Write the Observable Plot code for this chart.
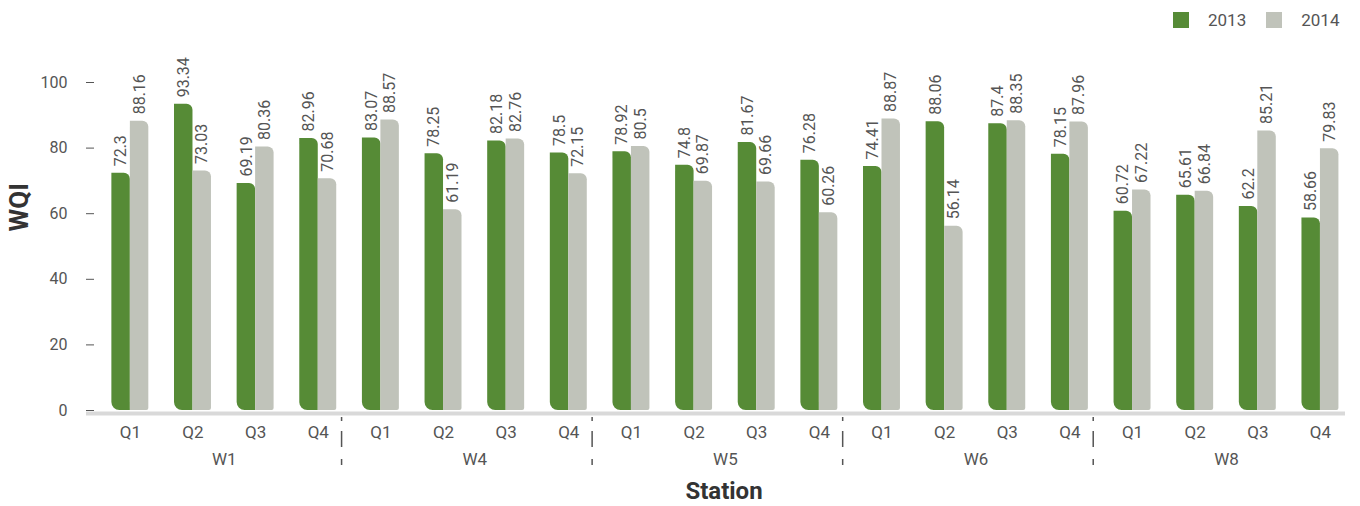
<!DOCTYPE html>
<html><head><meta charset="utf-8">
<script src="https://cdn.jsdelivr.net/npm/d3@7"></script>
<script src="https://cdn.jsdelivr.net/npm/@observablehq/plot@0.6"></script>
<style>
body{margin:0;background:#fff;font-family:Roboto,sans-serif}
#wrap{position:relative;width:1360px;height:506px}
#legend{position:absolute;top:11px;left:1173px;display:flex;align-items:center;font-size:17px;color:#555;line-height:18px}
#legend .sw{width:16px;height:16px;display:inline-block;margin-right:19px}
#legend .lab{margin-right:20px}
svg{display:block}
</style></head><body><div id="wrap"><div id="legend"></div></div>
<script>
const stations = ["W1","W4","W5","W6","W8"];
const quarters = ["Q1","Q2","Q3","Q4"];
const years = ["2013","2014"];
const wqi2013 = [72.3,93.34,69.19,82.96, 83.07,78.25,82.18,78.5, 78.92,74.8,81.67,76.28, 74.41,88.06,87.4,78.15, 60.72,65.61,62.2,58.66];
const wqi2014 = [88.16,73.03,80.36,70.68, 88.57,61.19,82.76,72.15, 80.5,69.87,69.66,60.26, 88.87,56.14,88.35,87.96, 67.22,66.84,85.21,79.83];
const yTicks = [0,20,40,60,80,100];
const colors = ["#568b36","#c0c3ba"];

const half = 0.295;
const slots = d3.range(stations.length * quarters.length);
const rows = [];
slots.forEach(i => {
  rows.push({i, year: years[0], value: wqi2013[i], x1: i - half, x2: i, xc: i - half / 2});
  rows.push({i, year: years[1], value: wqi2014[i], x1: i, x2: i + half, xc: i + half / 2});
});
const groupCenters = stations.map((s, g) => g * quarters.length + (quarters.length - 1) / 2);
const separators = stations.slice(1).map((s, g) => (g + 1) * quarters.length - 0.5);

const plot = Plot.plot({
  width: 1360, height: 506,
  marginLeft: 86, marginRight: 15, marginTop: 82, marginBottom: 96,
  style: {fontFamily: "Roboto, sans-serif", background: "#fff"},
  x: {domain: [-0.7, 19.4], label: null, axis: null},
  y: {domain: [0, 100], label: null, axis: null},
  color: {domain: years, range: colors},
  marks: [
    Plot.rectY(rows.filter(d => d.year === years[0]), {x1: "x1", x2: "x2", y1: 0, y2: "value", fill: "year", rx1y1: 8, rx2y2: 6}),
    Plot.rectY(rows.filter(d => d.year === years[1]), {x1: "x1", x2: "x2", y1: 0, y2: "value", fill: "year", rx2y1: 2, rx2y2: 6}),
    Plot.ruleY([0], {stroke: "#d9d9d9", strokeWidth: 4, dy: 3}),
    Plot.text(rows, {x: "xc", y: "value", text: "value", rotate: -90, textAnchor: "start", dy: -7, fontSize: 16, fill: "#555"}),
    Plot.axisY(yTicks, {tickSize: 8, tickPadding: 19, dx: 8, fontSize: 16, color: "#555"}),
    Plot.axisX(slots, {tickFormat: i => quarters[i % quarters.length], tickSize: 0, tickPadding: 15, fontSize: 17, color: "#555", label: null}),
    Plot.axisX(groupCenters, {tickFormat: (d, k) => stations[k], tickSize: 0, tickPadding: 42, fontSize: 17, color: "#555", label: null}),
    Plot.ruleX(separators, {x: d => d, insetTop: 331, insetBottom: -56, dx: -8, stroke: "#555", strokeWidth: 1.5, strokeDasharray: "0,4,4,10,16,12,6,10"}),
    Plot.text(["Station"], {frameAnchor: "bottom", text: d => d, dy: 88, dx: 8, fontSize: 24, fontWeight: "bold", fill: "#333"}),
    Plot.text(["WQI"], {frameAnchor: "left", text: d => d, dx: -67, dy: -15, rotate: -90, fontSize: 26, fontWeight: "bold", fill: "#333"})
  ]
});
document.getElementById("wrap").appendChild(plot);

const legend = d3.select("#legend");
years.forEach((y, k) => {
  legend.append("span").attr("class", "sw").style("background", colors[k]);
  legend.append("span").attr("class", "lab").text(y);
});
</script></body></html>
